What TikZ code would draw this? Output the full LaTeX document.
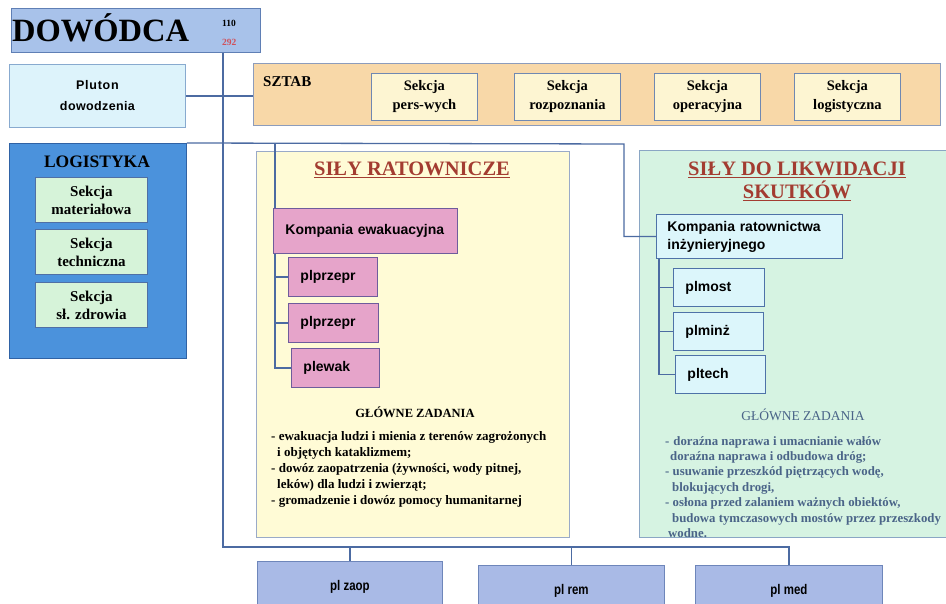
\documentclass[tikz,border=0pt]{standalone}
\usepackage{fontspec}
\setmainfont{Liberation Serif}
\newfontfamily\sansb{Liberation Sans}
\newfontfamily\sansn{Liberation Sans}[FakeStretch=0.82]
\definecolor{dowfill}{HTML}{A8C2EA}
\definecolor{dowdraw}{HTML}{5F7FB5}
\definecolor{plutfill}{HTML}{DDF3FB}
\definecolor{plutdraw}{HTML}{88AACF}
\definecolor{sztabfill}{HTML}{F8D8A8}
\definecolor{sztabdraw}{HTML}{8C9CBC}
\definecolor{sekfill}{HTML}{FDF5D2}
\definecolor{sekdraw}{HTML}{6F88B2}
\definecolor{logfill}{HTML}{4B92DC}
\definecolor{logdraw}{HTML}{2F62A5}
\definecolor{logsec}{HTML}{D6F3D9}
\definecolor{logsecdraw}{HTML}{4F6FA5}
\definecolor{yelfill}{HTML}{FFFBD6}
\definecolor{yeldraw}{HTML}{9AAAC8}
\definecolor{pinkfill}{HTML}{E6A4CA}
\definecolor{pinkdraw}{HTML}{6E5C9C}
\definecolor{grnfill}{HTML}{D6F3E2}
\definecolor{grndraw}{HTML}{8AA6C4}
\definecolor{cyanfill}{HTML}{DCF6FB}
\definecolor{cyandraw}{HTML}{4E72A8}
\definecolor{botfill}{HTML}{A9BAE6}
\definecolor{botdraw}{HTML}{6E86BA}
\definecolor{titlered}{HTML}{A33C31}
\definecolor{numred}{HTML}{D0505A}
\definecolor{linecol}{HTML}{4C6BA2}
\definecolor{taskgray}{HTML}{4A6488}
\tikzset{
  sbox/.style={draw=#1, line width=0.9pt, anchor=north west, inner sep=0pt, align=center},
  conn/.style={draw=linecol, line width=1.3pt},
  lbl/.style={inner sep=0pt},
  sekfont/.style={font=\bfseries\fontsize{14.5}{19}\selectfont},
  sansfont/.style={font=\sansb\bfseries\fontsize{14}{18}\selectfont},
}
\begin{document}
\begin{tikzpicture}[x=1pt,y=-1pt]
\useasboundingbox (0,0) rectangle (946,604);
\fill[white] (0,0) rectangle (946,604);

% ---- DOWODCA
\node[sbox=dowdraw, fill=dowfill, minimum width=249, minimum height=44] (dow) at (11,8) {};
\node[lbl, anchor=base west, font=\bfseries\fontsize{32.5}{32.5}\selectfont] (dowt) at (12,42) {DOWÓDCA};
\node[lbl, anchor=base west, font=\bfseries\fontsize{9.5}{9.5}\selectfont] (n110) at (222,27) {110};
\node[lbl, anchor=base west, font=\bfseries\fontsize{9.5}{9.5}\selectfont, text=numred] (n292) at (222,46) {292};

% ---- Pluton
\node[sbox=plutdraw, fill=plutfill, minimum width=176, minimum height=63,
      font=\sansb\bfseries\fontsize{12.5}{21}\selectfont] (plut) at (9,64)
      {{\addfontfeatures{LetterSpace=6}Pluton}\\{\addfontfeatures{LetterSpace=3}dowodzenia}};

% ---- SZTAB
\node[sbox=sztabdraw, fill=sztabfill, minimum width=687, minimum height=62] (sztab) at (253,63) {};
\node[lbl, anchor=base west, font=\bfseries\fontsize{15}{15}\selectfont] (sztabt) at (263,87) {SZTAB};
\node[sbox=sekdraw, fill=sekfill, minimum width=106, minimum height=47, sekfont] (s1) at (371,73) {Sekcja\\pers-wych};
\node[sbox=sekdraw, fill=sekfill, minimum width=106, minimum height=47, sekfont] (s2) at (514,73) {Sekcja\\rozpoznania};
\node[sbox=sekdraw, fill=sekfill, minimum width=106, minimum height=47, sekfont] (s3) at (654,73) {Sekcja\\operacyjna};
\node[sbox=sekdraw, fill=sekfill, minimum width=106, minimum height=47, sekfont] (s4) at (794,73) {Sekcja\\logistyczna};

% ---- LOGISTYKA
\node[sbox=logdraw, fill=logfill, minimum width=177, minimum height=215] (log) at (9,143) {};
\node[lbl, font=\bfseries\fontsize{17.5}{17.5}\selectfont] (logt) at (97,162) {LOGISTYKA};
\node[sbox=logsecdraw, fill=logsec, minimum width=112, minimum height=45, font=\bfseries\fontsize{15}{18}\selectfont] (l1) at (35,177) {Sekcja\\materiałowa};
\node[sbox=logsecdraw, fill=logsec, minimum width=112, minimum height=45, font=\bfseries\fontsize{15}{18}\selectfont] (l2) at (35,229) {Sekcja\\techniczna};
\node[sbox=logsecdraw, fill=logsec, minimum width=112, minimum height=45, font=\bfseries\fontsize{15}{18}\selectfont] (l3) at (35,282) {Sekcja\\sł. zdrowia};

% ---- big panels
\node[sbox=yeldraw, fill=yelfill, minimum width=313, minimum height=386] (ratp) at (256,151) {};
\node[sbox=grndraw, fill=grnfill, minimum width=312, minimum height=387] (likp) at (639,150) {};

% ---- bottom boxes
\node[sbox=botdraw, fill=botfill, minimum width=185, minimum height=50, font=\sansn\bfseries\fontsize{14}{14}\selectfont] (bz) at (257,561) {pl zaop};
\node[sbox=botdraw, fill=botfill, minimum width=186, minimum height=50, font=\sansn\bfseries\fontsize{14}{14}\selectfont] (br) at (478,565) {pl rem};
\node[sbox=botdraw, fill=botfill, minimum width=187, minimum height=50, font=\sansn\bfseries\fontsize{14}{14}\selectfont] (bm) at (695,565) {pl med};

% ---- connector helper coordinates
\coordinate (trunk) at (223,547);
\coordinate (j1) at (624,144);
\coordinate (j2) at (275,144);
\coordinate (j3) at (659,258);

% ---- inner boxes
\node[sbox=pinkdraw, fill=pinkfill, minimum width=184, minimum height=45, text width=160, align=left, inner xsep=12pt, sansfont] (kew) at (273,208) {Kompania ewakuacyjna};
\node[sbox=pinkdraw, fill=pinkfill, minimum width=89, minimum height=39, text width=65, align=left, inner xsep=12pt, sansfont] (pe1) at (288,257) {plprzepr};
\node[sbox=pinkdraw, fill=pinkfill, minimum width=90, minimum height=39, text width=66, align=left, inner xsep=12pt, sansfont] (pe2) at (288,303) {plprzepr};
\node[sbox=pinkdraw, fill=pinkfill, minimum width=88, minimum height=39, text width=64, align=left, inner xsep=12pt, sansfont] (pe3) at (291,348) {plewak};

\node[sbox=cyandraw, fill=cyanfill, minimum width=186, minimum height=44, text width=164, align=left, inner xsep=11pt, sansfont] (krat) at (656,214) {Kompania ratownictwa\\inżynieryjnego};
\node[sbox=cyandraw, fill=cyanfill, minimum width=91, minimum height=38, text width=67, align=left, inner xsep=12pt, sansfont] (pm1) at (673,268) {plmost};
\node[sbox=cyandraw, fill=cyanfill, minimum width=90, minimum height=38, text width=66, align=left, inner xsep=12pt, sansfont] (pm2) at (673,312) {plminż};
\node[sbox=cyandraw, fill=cyanfill, minimum width=90, minimum height=38, text width=66, align=left, inner xsep=12pt, sansfont] (pm3) at (675,355) {pltech};

% ---- connectors
\draw[conn] (dow.south -| trunk) -- (trunk) -- (trunk -| bm.north) -- (bm.north);
\draw[conn] (trunk -| bz.north) -- (bz.north);
\draw[conn] (trunk -| br.north) -- (br.north);
\draw[conn] (plut.east) -- (plut.east -| sztab.west);
\draw[conn] (log.north east) -- (j1) -- (j1 |- krat.west) -- (krat.west);
\draw[conn] (j2) -- (kew.north west -| j2);
\draw[conn] (kew.south west -| j2) -- (j2 |- pe3.west) -- (pe3.west);
\draw[conn] (j2 |- pe1.west) -- (pe1.west);
\draw[conn] (j2 |- pe2.west) -- (pe2.west);
\draw[conn] (j3 |- krat.south) -- (j3 |- pm3.west) -- (pm3.west);
\draw[conn] (j3 |- pm1.west) -- (pm1.west);
\draw[conn] (j3 |- pm2.west) -- (pm2.west);

% ---- titles
\node[lbl, font=\bfseries\fontsize{20.5}{20.5}\selectfont, text=titlered] (ratt) at (412,170) {\underline{SIŁY RATOWNICZE}};
\node[lbl, font=\bfseries\fontsize{20.5}{23}\selectfont, text=titlered, align=center] (likt) at (797,181) {\underline{SIŁY DO LIKWIDACJI}\\\underline{SKUTKÓW}};

% ---- tasks
\node[lbl, font=\bfseries\fontsize{12.5}{12.5}\selectfont] (gz1) at (415,412) {GŁÓWNE ZADANIA};
\node[lbl, anchor=north west, align=left, font=\bfseries\fontsize{13}{16}\selectfont] (tk1) at (271,431)
 {- ewakuacja ludzi i mienia z terenów zagrożonych\\
  \hspace*{6pt}i objętych kataklizmem;\\
  - dowóz zaopatrzenia (żywności, wody pitnej,\\
  \hspace*{6pt}leków) dla ludzi i zwierząt;\\
  - gromadzenie i dowóz pomocy humanitarnej};

\node[lbl, font=\fontsize{13.5}{13.5}\selectfont, text=taskgray] (gz2) at (803,415) {GŁÓWNE ZADANIA};
\node[lbl, anchor=north west, align=left, text=taskgray, font=\bfseries\fontsize{12.8}{15.4}\selectfont] (tk2) at (665,436)
 {-\hspace*{4pt}doraźna naprawa i umacnianie wałów\\
  \hspace*{5pt}doraźna naprawa i odbudowa dróg;\\
  - usuwanie przeszkód piętrzących wodę,\\
  \hspace*{7pt}blokujących drogi,\\
  - osłona przed zalaniem ważnych obiektów,\\
  \hspace*{7pt}budowa tymczasowych mostów przez przeszkody\\
  \hspace*{3pt}wodne.};
\end{tikzpicture}
\end{document}
